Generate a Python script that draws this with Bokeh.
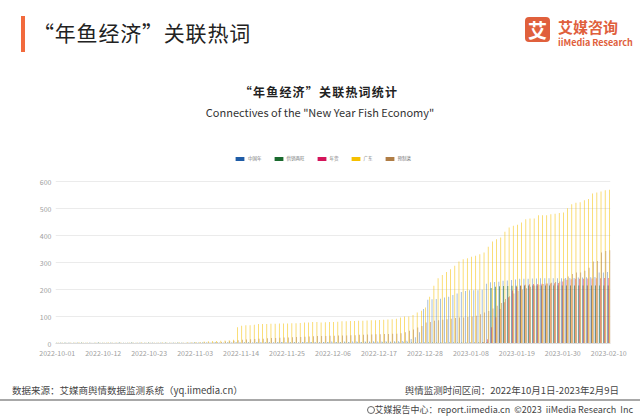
import pandas as pd
from bokeh.plotting import figure
from bokeh.models import (Range1d, FixedTicker, ColumnDataSource, Legend, LegendItem, Div)
from bokeh.layouts import column
from bokeh.transform import dodge
from bokeh.embed import file_html
from bokeh.resources import INLINE

# ---------------- data ----------------
start_date = "2022-10-01"
n_days = 133
tick_labels = ["2022-10-01", "2022-10-12", "2022-10-23", "2022-11-03", "2022-11-14",
               "2022-11-25", "2022-12-06", "2022-12-17", "2022-12-28", "2023-01-08",
               "2023-01-19", "2023-01-30", "2023-02-10"]
y_ticks = [0, 100, 200, 300, 400, 500, 600]

series_names = ["中国年", "供销两旺", "年货", "广东", "预制菜"]
series_colors = ["#1f5ca6", "#1a6a2e", "#d4145a", "#f6c000", "#b07d45"]

zhongguonian = ([2, 3, 2, 3, 2, 3, 2, 2, 3, 2, 3, 2, 2, 3, 2, 3, 2, 2, 3, 2,
                 3, 2, 2, 3, 2, 3, 2, 2, 3, 2, 3, 2, 3, 3, 3, 3, 4, 3, 4, 3,
                 3, 4, 4, 4, 5, 4, 5, 4, 5, 5, 4, 5, 5, 5, 6, 5, 5, 6, 5, 6,
                 5, 6, 6, 5, 6, 6, 7, 6, 6, 7, 6, 7, 7, 6, 7, 7, 8, 7, 7, 8,
                 7, 8, 8, 9]
                + [10, 17, 23, 42, 128]
                + [162, 164, 165, 166, 170, 173, 180, 185, 191, 194, 197, 197, 197, 199, 221,
                   227, 228, 229, 232, 233, 235, 237, 240, 240, 240, 241, 241, 242, 242, 242,
                   242, 242, 242, 243, 243, 243, 244, 244, 245, 245, 246, 263, 263, 265])

gongxiao = ([3, 3, 4, 3, 3, 3, 4, 3, 3, 3, 4, 3, 3, 3, 3, 4, 3, 3, 4, 3,
             3, 3, 4, 3, 3, 3, 4, 3, 3, 4, 3, 3, 3, 4, 3, 4, 3, 3, 4, 3,
             3, 4, 3, 4, 3, 4, 4, 3, 4, 3, 4, 4, 3, 4, 4, 3, 4, 4, 3, 4,
             4, 4, 3, 4, 4, 4, 3, 4, 4, 4, 4, 3, 4, 4, 4, 4, 4, 3, 4, 4,
             4, 4, 4, 4, 4, 4, 4, 4, 4, 4, 4, 4, 4, 4, 4, 4, 4, 4, 4, 4,
             4, 4, 5, 5]
            + [206, 210, 212, 213, 213, 214, 214, 214, 215, 215, 215, 215, 215, 215, 215,
               215, 215, 215, 215, 215, 215, 215, 215, 215, 215, 215, 215, 215, 215])

nianhuo = ([1, 1, 2, 1, 1, 1, 2, 1, 1, 1, 2, 1, 1, 1, 1, 2, 1, 1, 2, 1,
            1, 1, 2, 1, 1, 1, 2, 1, 1, 2, 1, 1, 1, 2, 1, 2, 1, 1, 2, 1,
            1, 2, 1, 2, 1, 2, 2, 1, 2, 1, 2, 2, 1, 2, 2, 1, 2, 2, 1, 2,
            2, 2, 1, 2, 2, 2, 1, 2, 2, 2, 2, 1, 2, 2, 2, 2, 2, 1, 2, 2,
            2, 2, 2, 2, 2, 2, 2, 2, 2, 2, 2, 2, 2, 2, 2, 2, 2, 2, 2, 3,
            3, 3]
           + [5]
           + [16, 60, 97, 128, 153, 171, 196, 209, 215, 218, 219, 220, 220, 221, 222,
              222, 223, 224, 230, 236, 238, 240, 240, 240, 241, 241, 242, 242, 243, 243])

guangdong = ([3, 3, 2, 3, 3, 4, 3, 3, 2, 3, 3, 3, 4, 3, 3, 3, 2, 3, 3, 3,
              4, 3, 3, 3, 3, 4, 3, 3, 3, 4, 3, 4, 4, 5]
             + [6, 7, 8, 9, 9, 10, 11, 12, 14]
             + [60, 66, 68, 68, 69, 72, 72, 72, 73, 73, 74, 74, 74, 75, 75, 76, 78, 78, 80, 80]
             + [78, 79, 80, 80, 81, 82, 82, 83, 83, 84, 84, 85, 86, 86, 87, 88, 89, 90, 92]
             + [96, 100, 100, 106, 115, 121, 133]
             + [173, 214, 242, 254, 265, 275, 288, 304, 312, 316, 321, 325, 331, 337, 358,
                378, 386, 393, 414, 430, 436, 440, 448, 460, 463, 463, 475, 475, 475, 479,
                481, 483, 485, 501, 516, 521, 523, 531, 535, 556, 559, 563, 568, 569])

yuzhicai = ([3, 3, 3, 3, 3, 3, 3, 3, 3, 3, 3, 3, 3, 3, 3, 3, 3, 3, 3, 3,
             3, 3, 3, 3, 3, 3, 3, 3, 3, 3, 3, 4, 4, 4, 4, 5, 5, 5, 6, 6, 7]
            + [8, 10, 12, 14, 15, 16, 17, 18, 18, 19, 20, 20, 21, 22, 22, 23, 24, 24, 25, 26, 27, 28]
            + [28, 28, 29, 29, 30, 30, 30, 31, 31, 32, 32, 33, 33, 34, 34, 35, 35, 36]
            + [36, 38, 42, 47, 52, 59, 65, 78]
            + [80, 84, 86, 88, 90, 92, 94, 96, 96, 98, 100, 103, 108]
            + [115, 120, 130, 140, 150, 165, 175, 185, 195, 200, 205, 210, 215, 218, 220,
               222, 225, 228, 230]
            + [240, 248, 257, 263, 263, 269, 281, 304, 306, 337, 343, 345])

main_title = "“年鱼经济”关联热词"
chart_title = "“年鱼经济”关联热词统计"
chart_subtitle = 'Connectives of the "New Year Fish Economy"'
source_text = "数据来源：艾媒商舆情数据监测系统（yq.iimedia.cn）"
period_text = "舆情监测时间区间：2022年10月1日-2023年2月9日"
credit_text = "艾媒报告中心：report.iimedia.cn &nbsp;©2023 &nbsp;iiMedia Research &nbsp;Inc"

# ---------------- layout constants ----------------
FONT = "Noto Sans CJK SC"
PAGE_W = 640
HEAD_H = 150            # header div height
PLOT_TOP = HEAD_H
FRAME_TOP, FRAME_BOT = 181, 343   # y=600 and y=0
PLOT_BOT = 370
FRAME_L, FRAME_R = 55, 610
FOOT_H = 416 - PLOT_BOT

px_per_unit = (FRAME_BOT - FRAME_TOP) / 600.0
y_end = (FRAME_BOT - PLOT_TOP) / px_per_unit

# ---------------- chart ----------------
start = pd.Timestamp(start_date)
days = list(range(n_days))
tick_days = [int((pd.Timestamp(t) - start).days) for t in tick_labels]

src = ColumnDataSource(dict(day=days, s0=zhongguonian, s1=gongxiao, s2=nianhuo,
                            s3=guangdong, s4=yuzhicai))

p = figure(width=PAGE_W, height=PLOT_BOT - PLOT_TOP, output_backend="svg",
           toolbar_location=None, title=None,
           x_range=Range1d(-0.42, n_days - 1 + 0.42), y_range=Range1d(0, y_end),
           min_border_left=FRAME_L, min_border_right=PAGE_W - FRAME_R,
           min_border_top=0, min_border_bottom=PLOT_BOT - FRAME_BOT, margin=0)
p.outline_line_color = None
p.background_fill_color = "white"
p.border_fill_color = "white"

offsets = [-0.3, -0.15, 0.0, 0.15, 0.3]
alphas = [0.55, 0.8, 0.7, 0.75, 0.75]
for i in range(5):
    p.vbar(x=dodge("day", offsets[i], range=p.x_range), top="s%d" % i, width=0.17,
           source=src, fill_color=series_colors[i], fill_alpha=alphas[i],
           line_color=None)

# legend (full-colour swatches, bound to renderers that draw nothing)
nan = float("nan")
dummy = ColumnDataSource(dict(day=[nan], v=[nan]))
items = []
for i in range(5):
    r = p.vbar(x="day", top="v", width=0.5, source=dummy,
               fill_color=series_colors[i], fill_alpha=1.0, line_color=None)
    items.append(LegendItem(label=series_names[i], renderers=[r]))
legend = Legend(items=items, orientation="horizontal",
                location=(234 - FRAME_L, FRAME_BOT - 161),
                glyph_width=11, glyph_height=5, label_height=5, label_width=0,
                label_standoff=3, spacing=11, padding=0, margin=0,
                label_text_font=FONT, label_text_font_size="4.5px",
                label_text_color="#777777", label_text_baseline="middle",
                border_line_color=None, background_fill_alpha=0)
p.add_layout(legend)

# axes
p.xaxis.ticker = FixedTicker(ticks=tick_days)
p.xaxis.major_label_overrides = {d: t for d, t in zip(tick_days, tick_labels)}
p.yaxis.ticker = FixedTicker(ticks=y_ticks)
for ax in (p.xaxis, p.yaxis):
    ax.major_tick_line_color = None
    ax.minor_tick_line_color = None
    ax.major_tick_out = 0
    ax.major_tick_in = 0
    ax.minor_tick_out = 0
    ax.major_label_text_font = FONT
    ax.major_label_text_font_size = "7px"
    ax.major_label_text_color = "#a0a0a0"
p.xaxis.axis_line_color = "#dcdcdc"
p.yaxis.axis_line_color = None
p.xaxis.major_label_standoff = 6
p.yaxis.major_label_standoff = 4
p.xgrid.grid_line_color = None
p.ygrid.grid_line_color = "#ebebeb"


# ---------------- header / footer (HTML text) ----------------
def txt(text, left, cy, size, color, weight="normal", right=None, center=None,
        extra=""):
    top = cy - 0.55 * size
    if center is not None:
        pos = "left:%.1fpx;width:400px;text-align:center;" % (center - 200)
    elif right is not None:
        pos = "right:%.1fpx;" % right
    else:
        pos = "left:%.1fpx;" % left
    return ('<div style="position:absolute;%stop:%.1fpx;font-size:%.1fpx;line-height:%.1fpx;'
            'color:%s;font-weight:%s;white-space:nowrap;%s">%s</div>'
            % (pos, top, size, size, color, weight, extra, text))


head_html = ('<div style="position:relative;width:%dpx;height:%dpx;overflow:hidden;'
             'font-family:\'%s\';background:white;">' % (PAGE_W, HEAD_H, FONT))
head_html += ('<div style="position:absolute;left:21px;top:16px;width:4px;height:36px;'
              'background:#f26a3d;"></div>')
head_html += txt(main_title, 33, 34, 21, "#222222", extra="letter-spacing:0.8px;")
head_html += ('<div style="position:absolute;left:525px;top:17px;width:25px;height:25px;'
              'border-radius:4px;background:#e0603c;color:white;font-size:19px;'
              'font-weight:bold;line-height:25px;text-align:center;">艾</div>')
head_html += txt("艾媒咨询", 558, 27.5, 15, "#e0603c", weight="bold")
head_html += txt("iiMedia Research", 558, 43, 9, "#e0603c", weight="bold")
head_html += txt(chart_title, 0, 93, 12, "#222222", weight="bold", center=319,
                 extra="letter-spacing:1.2px;")
head_html += txt(chart_subtitle, 0, 113, 11, "#333333", center=320)
head_html += '</div>'

foot_html = ('<div style="position:relative;width:%dpx;height:%dpx;overflow:hidden;'
             'font-family:\'%s\';background:white;">' % (PAGE_W, FOOT_H, FONT))
foot_html += txt(source_text, 12, 391 - PLOT_BOT, 9.5, "#444444")
foot_html += txt(period_text, 0, 391 - PLOT_BOT, 9.5, "#444444", right=21)
foot_html += ('<div style="position:absolute;left:0px;top:%dpx;width:%dpx;height:2px;'
              'background:#a8a8a8;"></div>' % (399 - PLOT_BOT, PAGE_W))
foot_html += ('<div style="position:absolute;left:367px;top:%.1fpx;width:8px;height:8px;'
              'border:1px solid #666;border-radius:50%%;box-sizing:border-box;"></div>'
              % (409.5 - PLOT_BOT - 4))
foot_html += txt(credit_text, 0, 409.5 - PLOT_BOT, 9, "#444444", right=7)
foot_html += '</div>'

header = Div(text=head_html, width=PAGE_W, height=HEAD_H, margin=0)
footer = Div(text=foot_html, width=PAGE_W, height=FOOT_H, margin=0)

layout = column(header, p, footer, spacing=0, margin=0)

open("out.html", "w").write(file_html(layout, INLINE))
